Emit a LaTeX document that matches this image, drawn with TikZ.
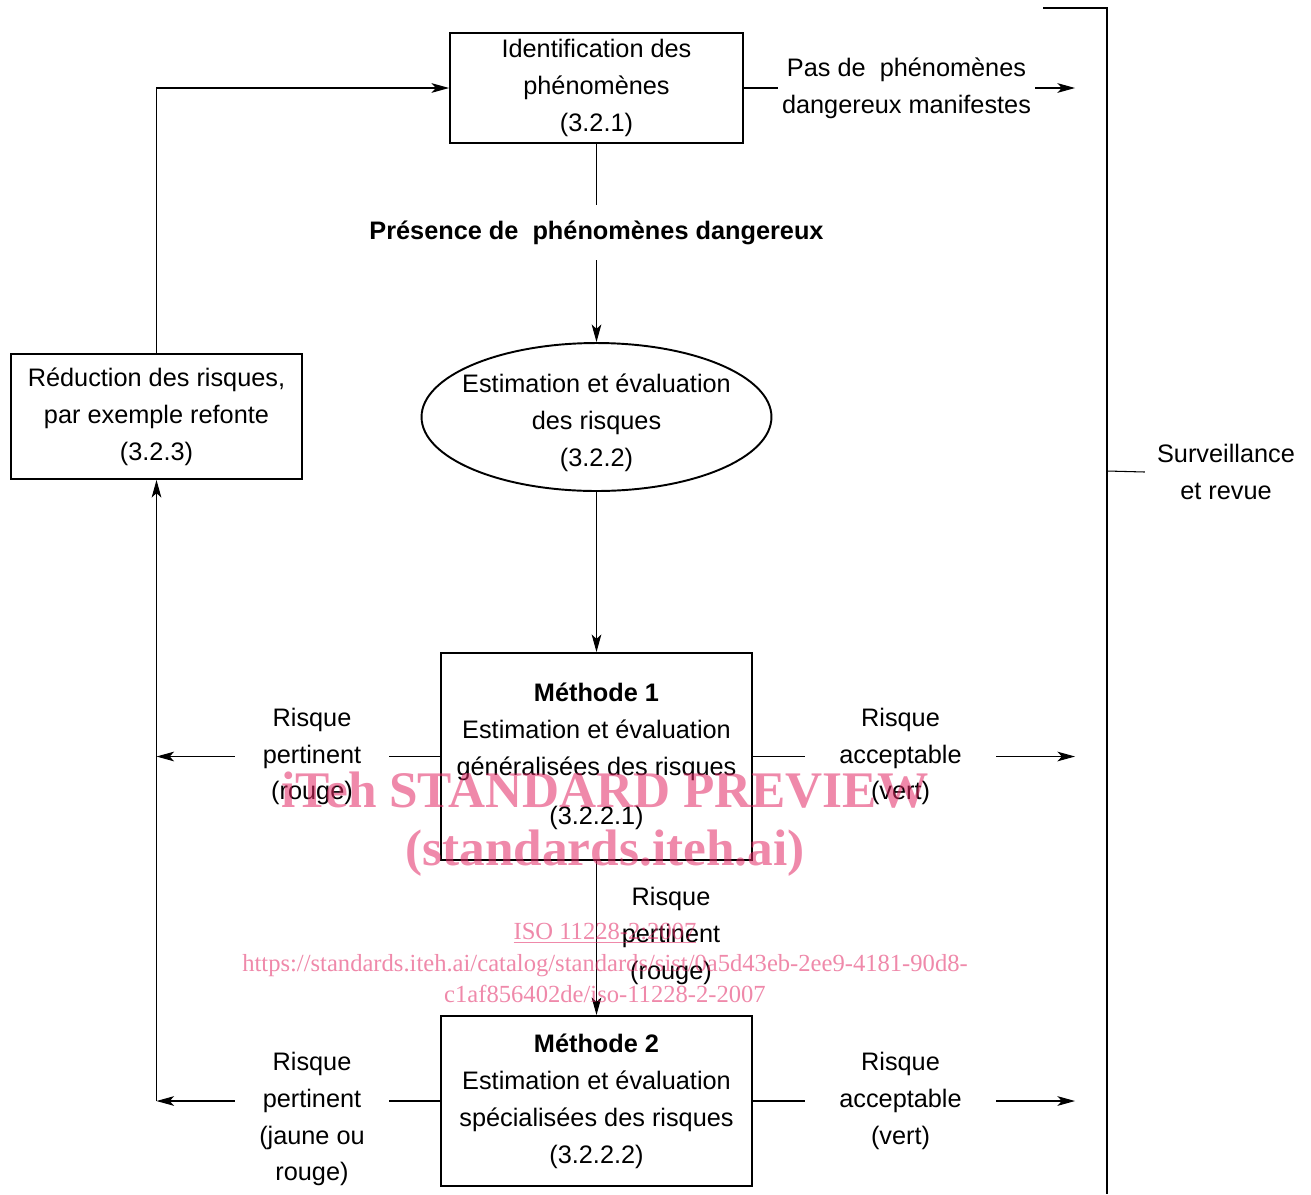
\documentclass[tikz,border=0pt]{standalone}
\usepackage{fontspec}
\setmainfont{Liberation Sans}
\newfontfamily\wmfont{Liberation Serif}
\usepackage{xcolor}
\usepackage{tikz}
\usetikzlibrary{calc, shapes.geometric, arrows.meta}
\pgfdeclarelayer{foreground}
\pgfsetlayers{main,foreground}
\definecolor{wmpink}{RGB}{225,40,100}
\newcommand{\lbfont}{\fontsize{14.4}{21}\selectfont}
\tikzstyle{process} = [rectangle, draw=black, line width=1.1pt, align=center, inner sep=0pt, font=\lbfont]
\tikzstyle{estim}   = [ellipse, draw=black, line width=1.1pt, align=center, inner xsep=-0.25cm, inner ysep=-0.15cm, font=\lbfont]
\tikzstyle{lbl}     = [align=center, inner sep=0pt, font=\lbfont]
\tikzstyle{link}    = [line width=0.6pt]
\tikzstyle{arrow}   = [line width=0.6pt, -{Stealth[length=10pt, width=5.5pt, inset=2.5pt]}]
\tikzstyle{wmark}   = [text=wmpink, text opacity=0.55, align=center, inner sep=0pt]

\begin{document}
\begin{tikzpicture}[x=0.02cm, y=-0.02cm]
    \useasboundingbox (0,0) rectangle (1311,1194);

    \node (ident) [process, minimum width=5.86cm, minimum height=2.2cm] at (596.5,88) {Identification des\\phénomènes\\(3.2.1)};
    \node (pas)   [lbl, minimum width=5.14cm] at (906.5,88) {Pas de\ \ phénomènes\\dangereux manifestes};
    \node (pres)  [lbl, minimum height=1.1cm, font=\lbfont\bfseries] at (596.5,232.5) {Présence de\ \ phénomènes dangereux};
    \node (estim) [estim, minimum width=7cm, minimum height=2.96cm] at (596.5,417) {};
    \node (estimtxt) [lbl] at (596.5,423) {Estimation et évaluation\\des risques\\(3.2.2)};
    \node (reduc) [process, minimum width=5.82cm, minimum height=2.5cm] at (156.5,416.5) {Réduction des risques,\\par exemple refonte\\(3.2.3)};
    \node (meth1) [process, minimum width=6.22cm, minimum height=4.14cm] at (596.5,756.5) {\textbf{Méthode 1}\\Estimation et évaluation\\généralisées des risques\\[7pt](3.2.2.1)};
    \node (meth2) [process, minimum width=6.22cm, minimum height=3.4cm] at (596.5,1101) {\textbf{Méthode 2}\\Estimation et évaluation\\spécialisées des risques\\(3.2.2.2)};

    \node (pert1)  [lbl, minimum width=3.08cm] at (312,756.5) {Risque\\pertinent\\(rouge)};
    \node (acc1)   [lbl, minimum width=3.82cm] at (900.5,756.5) {Risque\\acceptable\\(vert)};
    \node (pert12) [lbl] at (671,936) {Risque\\pertinent\\(rouge)};
    \node (pert2)  [lbl, minimum width=3.08cm] at (312,1119) {Risque\\pertinent\\(jaune ou\\rouge)};
    \node (acc2)   [lbl, minimum width=3.82cm] at (900.5,1101) {Risque\\acceptable\\(vert)};
    \node (surv)   [lbl, inner xsep=0.24cm] at (1226,472) {Surveillance\\et revue};

    \coordinate (pasend)  at (1075,88);
    \coordinate (acc1end) at (1075,756.5);
    \coordinate (acc2end) at (1075,1101);
    \coordinate (pert1end) at (reduc.south |- meth1.west);
    \coordinate (pert2end) at (reduc.south |- meth2.west);
    \coordinate (brtop)  at (1043,8);
    \coordinate (brbot)  at (1107,1194);
    \coordinate (brtick) at (1107,471);

    \draw [link]  (ident.east) -- (pas.west);
    \draw [arrow] (pas.east) -- (pasend);
    \draw [link]  (ident.south) -- (pres.north);
    \draw [arrow] (pres.south) -- (estim.north);
    \draw [arrow] (estim.south) -- (meth1.north);
    \draw [link]  (meth1.west) -- (pert1.east);
    \draw [arrow] (pert1.west) -- (pert1end);
    \draw [link]  (meth1.east) -- (acc1.west);
    \draw [arrow] (acc1.east) -- (acc1end);
    \draw [arrow] (meth1.south) -- (meth2.north);
    \draw [link]  (meth2.west) -- (meth2.west -| pert2.east);
    \draw [arrow] (meth2.west -| pert2.west) -- (pert2end);
    \draw [link]  (meth2.east) -- (acc2.west);
    \draw [arrow] (acc2.east) -- (acc2end);
    \draw [arrow] (pert2end) -- (reduc.south);
    \draw [arrow] (reduc.north) |- (ident.west);
    \draw [link]  (brtop) -| (brbot);
    \draw [link]  (brtick) -- (surv.west);

    \begin{pgfonlayer}{foreground}
      \node (wm1) [wmark, font=\wmfont\bfseries\fontsize{29.2}{33}\selectfont] at (605,824) {iTeh STANDARD PREVIEW\\(standards.iteh.ai)};
      \node (wm2) [wmark, font=\wmfont\fontsize{14}{18}\selectfont] at (605,963) {\underline{ISO 11228-2:2007}\\https://standards.iteh.ai/catalog/standards/sist/0a5d43eb-2ee9-4181-90d8-\\c1af856402de/iso-11228-2-2007};
    \end{pgfonlayer}

  \end{tikzpicture}
\end{document}
